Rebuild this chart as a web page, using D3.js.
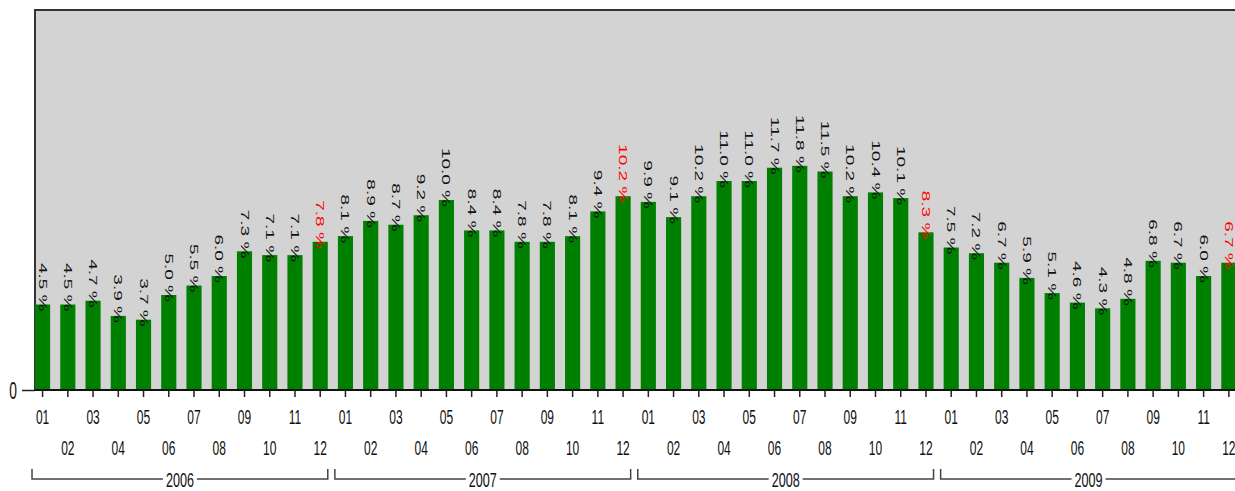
<!DOCTYPE html>
<html>
<head>
<meta charset="utf-8">
<script src="https://cdn.jsdelivr.net/npm/d3@7"></script>
<style>
  body { margin: 0; background: #fff; }
  text { font-family: "Liberation Sans", Arial, sans-serif; }
</style>
</head>
<body>
<svg id="chart" width="1235" height="491"></svg>
<script>
// Chart data
const years = ["2006", "2007", "2008", "2009"];
const months = ["01", "02", "03", "04", "05", "06", "07", "08", "09", "10", "11", "12"];
const values2006 = [4.5, 4.5, 4.7, 3.9, 3.7, 5.0, 5.5, 6.0, 7.3, 7.1, 7.1, 7.8];
const values2007 = [8.1, 8.9, 8.7, 9.2, 10.0, 8.4, 8.4, 7.8, 7.8, 8.1, 9.4, 10.2];
const values2008 = [9.9, 9.1, 10.2, 11.0, 11.0, 11.7, 11.8, 11.5, 10.2, 10.4, 10.1, 8.3];
const values2009 = [7.5, 7.2, 6.7, 5.9, 5.1, 4.6, 4.3, 4.8, 6.8, 6.7, 6.0, 6.7];
const yTicks = [0];

const seriesByYear = [values2006, values2007, values2008, values2009];

// flatten into one row per month
const data = [];
years.forEach(function(yr, i) {
  months.forEach(function(m, j) {
    data.push({ key: yr + "-" + m, year: yr, month: m, idx: j, value: seriesByYear[i][j] });
  });
});

// SVG configurations
const plotLeft = 35;
const plotTop = 10;
const plotBottom = 390;
const step = 25.24;
const squeeze = 0.6;   // the picture's text is narrow

const svg = d3.select("#chart");

const xScale = d3.scaleBand()
                 .domain(data.map(function(d) { return d.key; }))
                 .range([plotLeft, plotLeft + step * 47.6])
                 .paddingInner(0.4)
                 .paddingOuter(0);

const yScale = d3.scaleLinear()
                 .domain([0, 20])
                 .range([plotBottom, plotTop]);

// plot background
svg.append("rect")
     .attr("x", plotLeft)
     .attr("y", plotTop)
     .attr("width", 1260 - plotLeft)
     .attr("height", plotBottom - plotTop)
     .attr("fill", "#d3d3d3")
     .attr("stroke", "#333")
     .attr("stroke-width", 2);

// bars
svg.selectAll(".bar")
   .data(data)
   .join("rect")
     .attr("class", "bar")
     .attr("x", function(d) { return xScale(d.key); })
     .attr("y", function(d) { return yScale(d.value); })
     .attr("width", xScale.bandwidth())
     .attr("height", function(d) { return yScale(0) - yScale(d.value); })
     .attr("fill", "#008000");

// value labels, rotated
svg.selectAll(".val")
   .data(data)
   .join("text")
     .attr("class", "val")
     .attr("transform", function(d) {
       const cx = xScale(d.key) + xScale.bandwidth() / 2;
       return `translate(${cx},${yScale(d.value) + 7}) scale(${squeeze},1) rotate(90)`;
     })
     .attr("dy", "0.35em")
     .style("text-anchor", "end")
     .style("font-size", "19px")
     .attr("fill", function(d) { return d.idx === 11 ? "#ff0000" : "#111"; })
     .text(function(d) { return d.value.toFixed(1) + " %"; });

// X-axis
const xAxis = d3.axisBottom(xScale)
                .tickSize(7)
                .tickSizeOuter(0)
                .tickFormat(function(k) { return k.slice(5); });
const xAxisG = svg.append("g")
                  .attr("transform", `translate(0,${plotBottom})`)
                  .call(xAxis);
xAxisG.select(".domain")
      .attr("d", `M${plotLeft},0H1260`)
      .attr("stroke", "#111")
      .attr("stroke-width", 2);
xAxisG.selectAll(".tick line").attr("stroke", "#222").attr("stroke-width", 1.5);
xAxisG.selectAll(".tick text")
      .attr("y", function(k, i) { return i % 2 === 0 ? 34 : 65; })
      .attr("dy", 0)
      .attr("transform", `scale(${squeeze},1)`)
      .attr("fill", "#111")
      .style("font-size", "20px")
      .style("font-family", "'Liberation Sans', Arial, sans-serif");

// Y-axis
const yAxis = d3.axisLeft(yScale)
                .tickValues(yTicks)
                .tickSize(13)
                .tickPadding(5)
                .tickFormat(d3.format("d"));
const yAxisG = svg.append("g")
                  .attr("transform", `translate(${plotLeft},0)`)
                  .call(yAxis);
yAxisG.select(".domain").remove();
yAxisG.selectAll(".tick line").attr("stroke", "#222").attr("stroke-width", 1.5);
yAxisG.selectAll(".tick text")
      .attr("dy", "0.36em")
      .attr("transform", `translate(-18,0) scale(${squeeze},1) translate(18,0)`)
      .attr("fill", "#111")
      .style("font-size", "23px")
      .style("font-family", "'Liberation Sans', Arial, sans-serif");

// year brackets
const bracketTop = 469;
const bracketY = 479;
years.forEach(function(yr) {
  const x0 = xScale(yr + "-01") - 3;
  const x1 = xScale(yr + "-12") + xScale.bandwidth();
  svg.append("path")
       .attr("d", `M${x0},${bracketTop}V${bracketY}H${x1}V${bracketTop}`)
       .attr("fill", "none")
       .attr("stroke", "#444")
       .attr("stroke-width", 1.5);
  const lg = svg.append("g")
                .attr("transform", `translate(${(x0 + x1) / 2},487)`);
  const t = lg.append("text")
              .attr("transform", `scale(${squeeze},1)`)
              .style("text-anchor", "middle")
              .style("font-size", "21px")
              .attr("fill", "#111")
              .text(yr);
  const bb = lg.node().getBBox();
  lg.insert("rect", "text")
      .attr("x", bb.x - 3)
      .attr("y", bb.y)
      .attr("width", bb.width + 6)
      .attr("height", bb.height)
      .attr("fill", "#fff");
});
</script>
</body>
</html>
